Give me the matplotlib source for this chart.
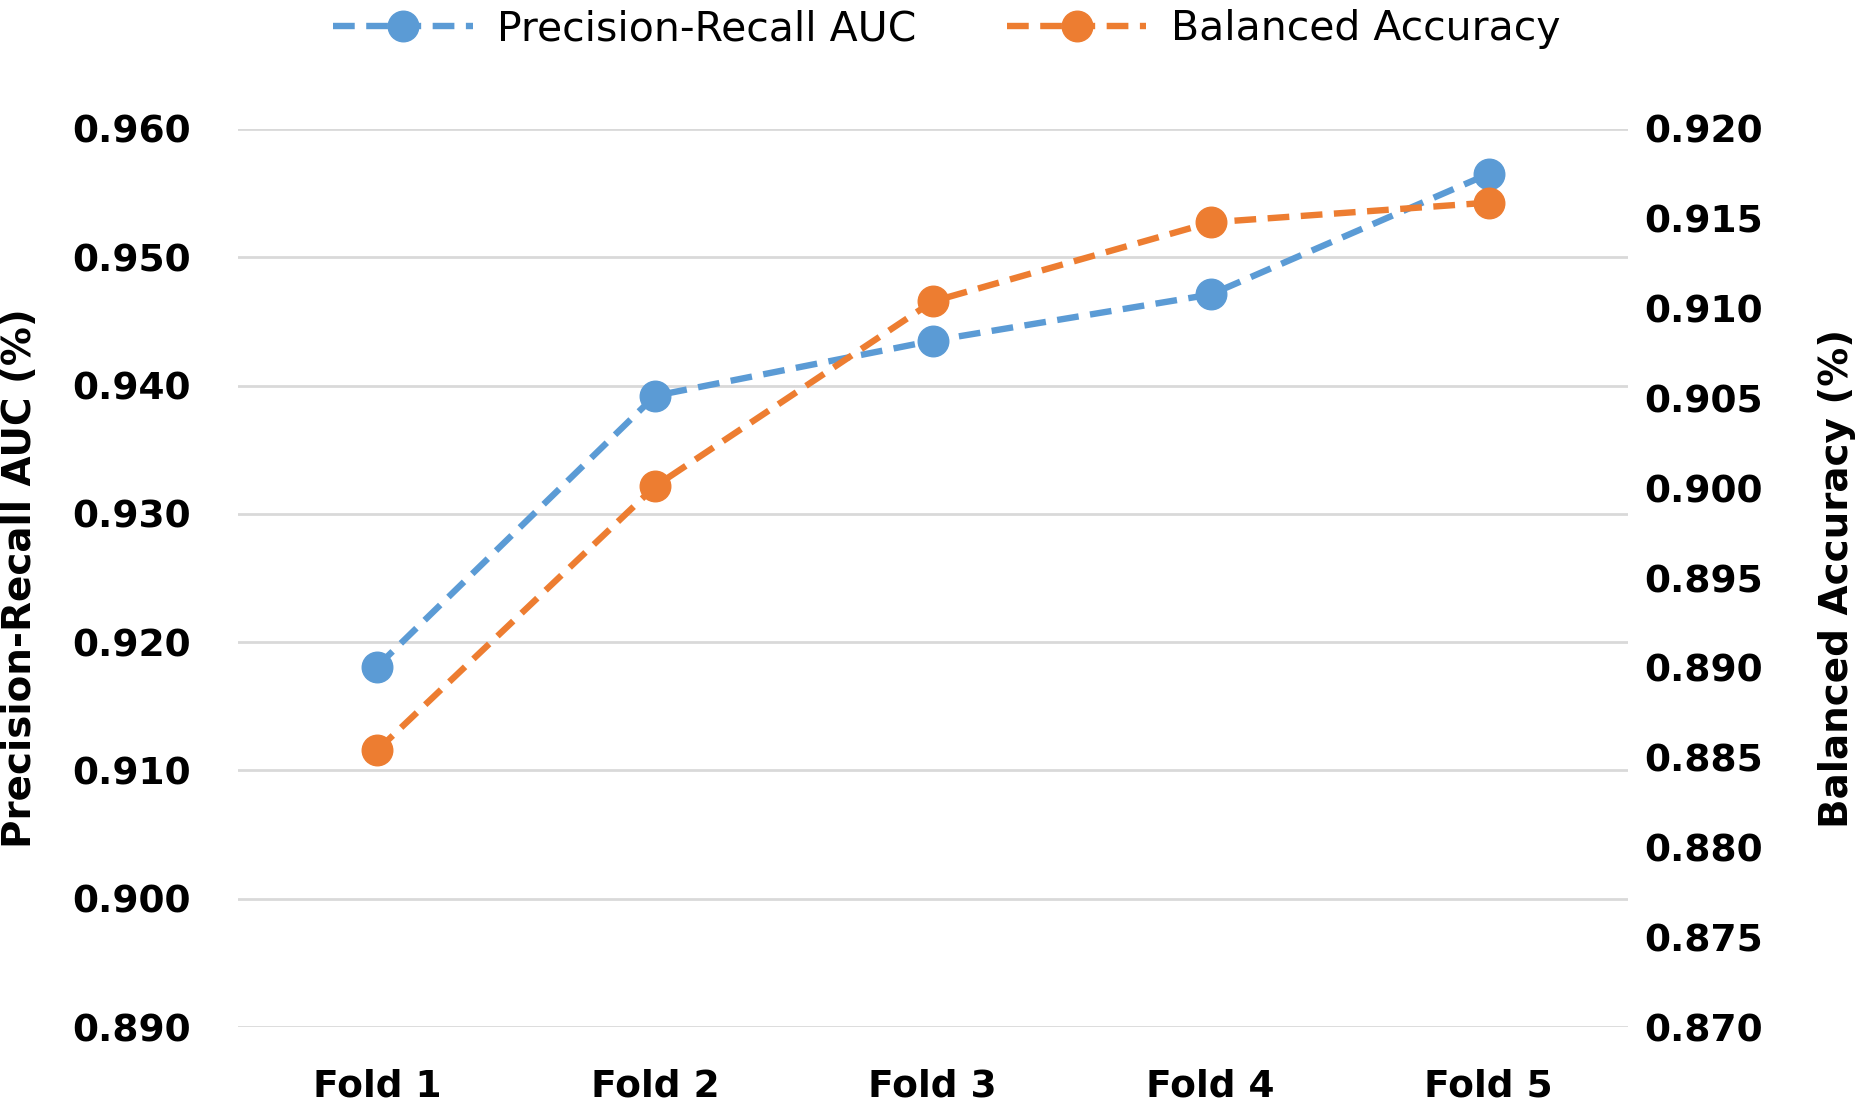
import numpy as np
import matplotlib.pyplot as plt

folds = ['Fold 1', 'Fold 2', 'Fold 3', 'Fold 4', 'Fold 5']
pr_auc = [0.9181, 0.9392, 0.9435, 0.9471, 0.9565]
bal_acc = [0.8854, 0.9001, 0.9104, 0.9148, 0.9159]

left_ticks = [0.890, 0.900, 0.910, 0.920, 0.930, 0.940, 0.950, 0.960]
right_ticks = [0.870, 0.875, 0.880, 0.885, 0.890, 0.895, 0.900, 0.905, 0.910, 0.915, 0.920]

blue = '#5B9BD5'
orange = '#ED7D31'
plt.rcParams['font.family'] = ['DejaVu Sans']

fig = plt.figure(figsize=(18.75, 11.12), dpi=100)
ax = fig.add_axes([0.127, 0.0764, 0.741, 0.8076])
ax2 = ax.twinx()

x = np.arange(len(folds))
dash = (0, (3.4, 1.8))
l1, = ax.plot(x, pr_auc, color=blue, lw=4.6, ls=dash, marker='o', ms=22,
              label='Precision-Recall AUC', zorder=3)
l2, = ax2.plot(x, bal_acc, color=orange, lw=4.6, ls=dash, marker='o', ms=22,
               label='Balanced Accuracy', zorder=3)

ax.set_xlim(-0.5, 4.5)
ax.set_ylim(0.890, 0.960)
ax2.set_ylim(0.870, 0.920)
ax.set_yticks(left_ticks)
ax.set_yticklabels(['%.3f' % v for v in left_ticks])
ax2.set_yticks(right_ticks)
ax2.set_yticklabels(['%.3f' % v for v in right_ticks])
ax.set_xticks(x)
ax.set_xticklabels(folds)

ax.grid(axis='y', color='#D9D9D9', lw=2)
ax.set_axisbelow(True)
for a in (ax, ax2):
    for s in a.spines.values():
        s.set_visible(False)
    a.tick_params(length=0, labelsize=27)
    for t in a.get_xticklabels() + a.get_yticklabels():
        t.set_fontweight('bold')
ax.tick_params(axis='y', pad=34)
ax.tick_params(axis='x', pad=30)
ax2.tick_params(axis='y', pad=12)

ax.set_ylabel('Precision-Recall AUC (%)', fontsize=28, fontweight='bold', labelpad=24)
ax2.set_ylabel('Balanced Accuracy (%)', fontsize=28, fontweight='bold', labelpad=40)

fig.legend(handles=[l1, l2], loc='upper center', bbox_to_anchor=(0.505, 1.025),
           ncol=2, frameon=False, fontsize=29.5, handlelength=3.4,
           columnspacing=2.2, handletextpad=0.6)

fig.savefig('out.png', dpi=100)
